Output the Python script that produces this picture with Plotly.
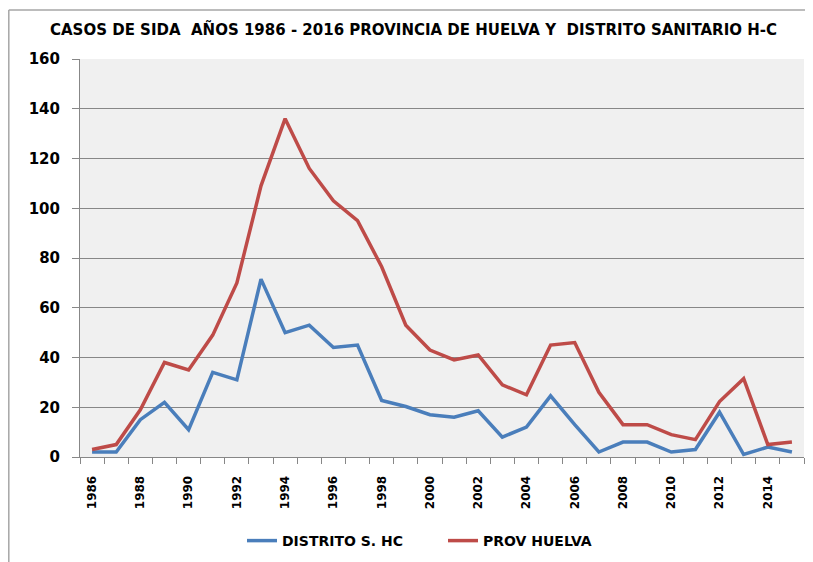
import plotly.graph_objects as go

years = [str(y) for y in range(1986, 2016)]
distrito_hc = [2, 2, 15, 22, 11, 34, 31, 71.5, 50, 53, 44, 45, 22.7, 20.3, 17,
               16, 18.6, 8, 12, 24.6, 13, 2, 6, 6, 2, 3, 18, 1, 4, 2]
prov_huelva = [3, 5, 19, 38, 35, 49, 70, 109, 136, 116, 103, 95, 76.5, 53, 43,
               39, 41, 29, 25, 45, 46, 26, 13, 13, 9, 7, 22.3, 31.5, 5, 6]
tick_text = [y if int(y) % 2 == 0 else "" for y in years]

# page offset of the figure (browser body margin)
OX, OY = 8, 8
W, H = 813 - OX, 562 - OY
# plot area in page pixels
L, R, T, B = 80 - OX, 804 - OX, 59 - OY, 457 - OY

FONT = "DejaVu Sans"
GRAY = "#878787"

fig = go.Figure()
fig.add_trace(go.Scatter(x=years, y=distrito_hc, mode="lines", name="DISTRITO S. HC",
                         line=dict(color="#4a7ebb", width=3.5)))
fig.add_trace(go.Scatter(x=years, y=prov_huelva, mode="lines", name="PROV HUELVA",
                         line=dict(color="#be4b48", width=3.5)))

pw, ph = R - L, B - T
def px(x):
    return (x - OX - L) / pw
def py(y):
    return (B - (y - OY)) / ph

border = dict(color="#a6a6a6", width=1.5)
fig.add_shape(type="line", xref="paper", yref="paper",
              x0=px(8.8), x1=px(812), y0=py(10), y1=py(10), line=border, layer="above")
fig.add_shape(type="line", xref="paper", yref="paper",
              x0=px(8.8), x1=px(8.8), y0=py(10), y1=py(562), line=border, layer="above")

fig.update_layout(
    width=W, height=H,
    margin=dict(l=L, r=W - R, t=T, b=H - B, pad=0, autoexpand=False),
    paper_bgcolor="white",
    plot_bgcolor="#f0f0f0",
    title=dict(text="<b>CASOS DE SIDA  AÑOS 1986 - 2016 PROVINCIA DE HUELVA Y  DISTRITO SANITARIO H-C</b>",
               font=dict(family=FONT, size=15, color="black"),
               xref="container", yref="container",
               x=(413.5 - OX) / W, xanchor="center", y=1 - (30 - OY) / H, yanchor="middle"),
    xaxis=dict(type="category", tickvals=years, ticktext=tick_text, automargin=False,
               range=[-0.5, len(years) - 0.5],
               tickson="boundaries", ticks="outside", ticklen=6, tickcolor=GRAY,
               showline=True, linecolor=GRAY, linewidth=1, showgrid=False,
               tickangle=-90, ticklabelstandoff=13,
               tickfont=dict(family=FONT, size=12, color="black", weight="bold")),
    yaxis=dict(range=[0, 160], dtick=20, showgrid=True, gridcolor=GRAY, gridwidth=1,
               showline=True, linecolor=GRAY, linewidth=1, zeroline=False, automargin=False,
               ticks="outside", ticklen=7, tickcolor=GRAY, ticklabelstandoff=9,
               tickfont=dict(family=FONT, size=15, color="black", weight="bold")),
    legend=dict(orientation="h", x=px(242), xanchor="left", y=py(541), yanchor="middle",
                entrywidth=156, entrywidthmode="pixels",
                font=dict(family=FONT, size=14, color="black", weight="bold"),
                bgcolor="rgba(0,0,0,0)"),
)

fig.write_html("out.html")
